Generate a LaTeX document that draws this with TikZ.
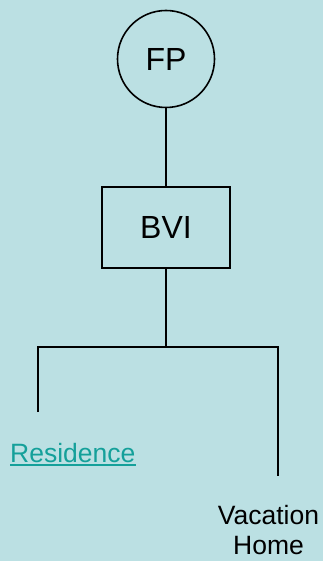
\documentclass[tikz,border=0pt]{standalone}
\usepackage{fontspec}
\setmainfont{Liberation Sans}
\definecolor{bg}{HTML}{BBE0E3}
\definecolor{linkteal}{HTML}{14A09A}
\begin{document}
\begin{tikzpicture}[x=1pt,y=-1pt,
  wire/.style={draw=black,line width=1.6pt},
  bigtext/.style={font=\fontsize{32}{38}\selectfont},
  leaftext/.style={font=\fontsize{26.5}{30}\selectfont,inner sep=0pt}]
  \fill[bg] (0,0) rectangle (323,561);
  \useasboundingbox (0,0) rectangle (323,561);
  % top of the chart
  \node[wire,circle,minimum size=97pt,inner sep=0pt,bigtext] (fp) at (166,59) {FP};
  \node[wire,rectangle,minimum width=128pt,minimum height=81pt,inner sep=0pt,bigtext] (bvi) at (166,227.5) {BVI};
  \draw[wire] (fp.south) -- (bvi.north);
  % branch
  \coordinate (fork) at (166,347);
  \coordinate (lt) at (38,347);
  \coordinate (rt) at (278,347);
  \coordinate (lend) at (38,412);
  \coordinate (rend) at (278,476);
  \draw[wire] (bvi.south) -- (fork);
  \draw[wire] (lend) -- (lt) -- (rt) -- (rend);
  % leaves
  \node[leaftext,anchor=base west,text=linkteal] (res) at (10,462) {Residence};
  \draw[linkteal,line width=1.3pt] ([yshift=-3pt]res.base west) -- ([yshift=-3pt]res.base east);
  \node[leaftext,align=center,anchor=north] (vac) at (268.5,505) {Vacation\\Home};
\end{tikzpicture}
\end{document}
